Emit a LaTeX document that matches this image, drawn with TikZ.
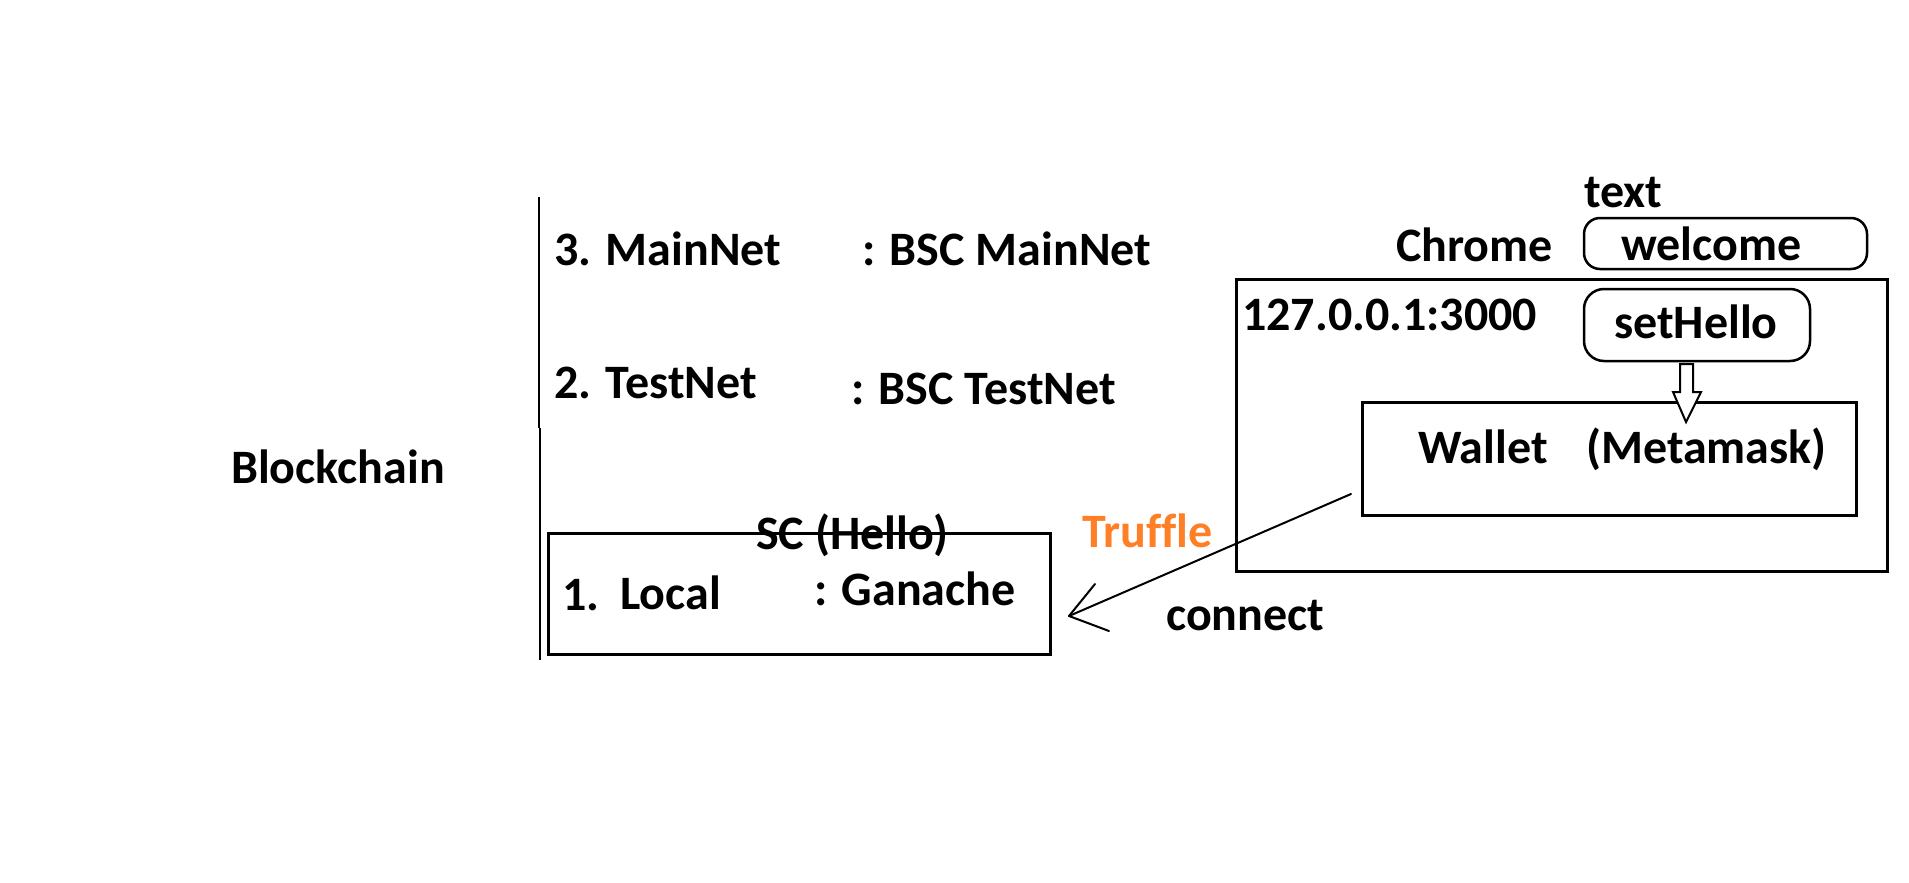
\documentclass[tikz,border=0pt]{standalone}
\usepackage{fontspec}
\setmainfont{Carlito}[Ligatures=NoCommon]
\definecolor{truffleorange}{HTML}{FF7F27}
\begin{document}
\begin{tikzpicture}[x=1pt,y=-1pt,
  lbl/.style={anchor=base west,inner sep=0pt,font=\fontsize{48pt}{58pt}\selectfont\bfseries},
  sqbox/.style={draw,line width=3pt,inner sep=0pt},
  rbox/.style={draw,line width=2.5pt,inner sep=0pt,rounded corners=14pt},
  wire/.style={line width=2pt,line cap=round,line join=round}]
\useasboundingbox (0,0) rectangle (1909,883);
% vertical divider
\coordinate (vt) at (539,197);
\coordinate (vm) at (539,428);
\coordinate (vm2) at (540,428);
\coordinate (vb) at (540,660);
\draw[line width=2pt] (vt) -- (vm);
\draw[line width=2pt] (vm2) -- (vb);
% left labels
\node[lbl] (bc) at (231,483) {Blockchain};
\node[lbl] (n3) at (554,265) {3. MainNet};
\node[lbl] (b3) at (862,265) {: BSC MainNet};
\node[lbl] (n2) at (554,398) {2. TestNet};
\node[lbl] (b2) at (851,404) {: BSC TestNet};
% local box
\node[sqbox,minimum width=502pt,minimum height=121pt] (local) at (799,593.5) {};
\node[lbl] (sc) at (756,549) {SC (Hello)};
\node[lbl] (n1) at (562,610) {1.};
\node[lbl] (loc) at (620,609) {Local};
\node[lbl] (gan) at (814,605) {: Ganache};
% connector labels
\node[lbl,text=truffleorange] (truf) at (1082,547) {Truffle};
\node[lbl] (conn) at (1166,630) {connect};
% chrome area
\node[lbl,anchor=base east] (chrome) at (1553,261) {Chrome};
\node[lbl] (txt) at (1584,207) {text};
\node[rbox,rounded corners=16pt,minimum width=283pt,minimum height=51pt] (welbox) at (1725.5,243.5) {};
\node[lbl] (wel) at (1621,260) {welcome};
\node[sqbox,minimum width=651pt,minimum height=292pt] (chromebox) at (1561.5,425) {};
\node[lbl] (ip) at (1242,330) {127.0.0.1:3000};
\node[rbox,rounded corners=20pt,minimum width=226pt,minimum height=72pt] (shbox) at (1697,325) {};
\node[lbl] (sh) at (1614,338) {setHello};
\node[sqbox,minimum width=494pt,minimum height=113pt] (wallet) at (1609,458.5) {};
\node[lbl] (wal) at (1418,463) {Wallet};
\node[lbl] (mm) at (1586,463) {(Metamask)};
% hollow arrow setHello -> wallet
\draw[line width=2pt,line join=miter,fill=white] (1680,364) -- (1680,392) -- (1673,392) -- (1686,422) -- (1701,392) -- (1693,392) -- (1693,364) -- cycle;
% connect arrow wallet -> local
\coordinate (cs) at (1351,494);
\coordinate (ce) at (1069,616);
\coordinate (h1) at (1095,584);
\coordinate (h2) at (1109,631);
\draw[wire] (cs) -- (ce);
\draw[wire] (h1) -- (ce) -- (h2);
\end{tikzpicture}
\end{document}
